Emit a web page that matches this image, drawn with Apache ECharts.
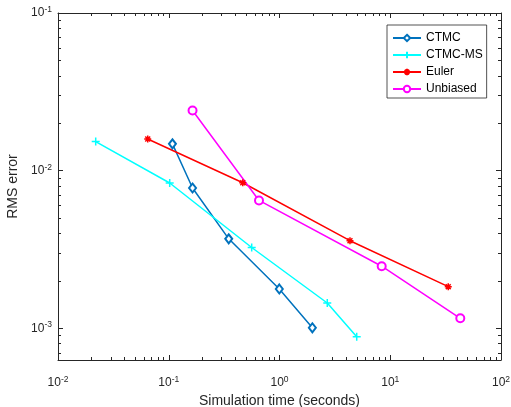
<!DOCTYPE html>
<html>
<head>
<meta charset="utf-8">
<script src="https://cdn.jsdelivr.net/npm/echarts@6/dist/echarts.min.js"></script>
<style>
  html, body { margin: 0; padding: 0; background: #fff; }
  #main { width: 511px; height: 407px; }
</style>
</head>
<body>
<div id="main"></div>
<script>
// simulation time (seconds) and RMS error per method
var ctmcTime   = [0.108, 0.164, 0.348, 0.996, 1.98];
var ctmcErr    = [0.0148, 0.00777, 0.00370, 0.00178, 0.00101];
var ctmcMsTime = [0.0219, 0.102, 0.561, 2.70, 4.98];
var ctmcMsErr  = [0.0153, 0.00836, 0.00326, 0.00145, 0.000886];
var eulerTime  = [0.0646, 0.466, 4.33, 33.4];
var eulerErr   = [0.0159, 0.00839, 0.00360, 0.00184];
var unbTime    = [0.164, 0.653, 8.37, 42.9];
var unbErr     = [0.0241, 0.00648, 0.00248, 0.00116];

var xTicks = [0.01, 0.1, 1, 10, 100];
var yTicks = [0.001, 0.01, 0.1];
var xMin = 0.01, xMax = 100;
var yMin = Math.pow(10, -3.2), yMax = 0.1;

var font = '"Liberation Sans", Helvetica, Arial, sans-serif';
var ink = '#262626';

function pairs(t, e) {
    return t.map(function (v, i) { return [v, e[i]]; });
}

// 2..9 times each decade, for the small log ticks
function minorTicks(lo, hi, from, to) {
    var out = [];
    for (var n = lo; n <= hi; n++) {
        for (var k = 2; k <= 9; k++) {
            var v = k * Math.pow(10, n);
            if (v > from && v < to) out.push(v);
        }
    }
    return out;
}
var xMinor = minorTicks(-2, 1, xMin, xMax);
var yMinor = minorTicks(-4, -2, yMin, yMax);

function powLabel(v) {
    var e = Math.round(Math.log10(v));
    return '{b|10}{e|' + e + '}';
}
var labelRich = {
    b: { fontSize: 12, lineHeight: 16, color: ink, fontFamily: font },
    e: { fontSize: 8.5, lineHeight: 8, verticalAlign: 'top', color: ink, fontFamily: font }
};

function axisPair(dim, pos, min, max, major, minor, withLabel) {
    var base = {
        type: 'log', logBase: 10, min: min, max: max, position: pos,
        splitLine: { show: false },
        axisLine: { show: true, lineStyle: { color: ink, width: 1 } }
    };
    var a = Object.assign({}, base, {
        axisTick: { show: true, inside: true, length: 5, customValues: major, lineStyle: { color: ink } },
        axisLabel: withLabel ? {
            show: true, customValues: major, formatter: powLabel, rich: labelRich,
            margin: dim === 'x' ? 15 : 6
        } : { show: false }
    });
    var b = Object.assign({}, base, {
        axisLine: { show: false },
        axisTick: { show: true, inside: true, length: 3, customValues: minor, lineStyle: { color: ink } },
        axisLabel: { show: false }
    });
    return [a, b];
}

var xAxes = axisPair('x', 'bottom', xMin, xMax, xTicks, xMinor, true)
    .concat(axisPair('x', 'top', xMin, xMax, xTicks, xMinor, false));
var yAxes = axisPair('y', 'left', yMin, yMax, yTicks, yMinor, true)
    .concat(axisPair('y', 'right', yMin, yMax, yTicks, yMinor, false));

xAxes[0].name = 'Simulation time (seconds)';
xAxes[0].nameLocation = 'middle';
xAxes[0].nameGap = 34;
xAxes[0].nameTextStyle = { fontSize: 14, color: ink, fontFamily: font };
yAxes[0].name = 'RMS error';
yAxes[0].nameLocation = 'middle';
yAxes[0].nameGap = 38;
yAxes[0].nameTextStyle = { fontSize: 14, color: ink, fontFamily: font };

var plusPath = 'path://M5,0L5,10M0,5L10,5';
var starPath = 'path://M0,5L10,5M5,0L5,10M1.5,1.5L8.5,8.5M1.5,8.5L8.5,1.5';

function line(name, data, color, symbol, size) {
    return {
        name: name, type: 'line', data: data,
        xAxisIndex: 0, yAxisIndex: 0,
        symbol: symbol, symbolSize: size, showSymbol: true,
        lineStyle: { color: color, width: 1.5 },
        itemStyle: { color: color, borderColor: color, borderWidth: 1.5 },
        emphasis: { disabled: true },
        z: 3
    };
}

var chart = echarts.init(document.getElementById('main'));
chart.setOption({
    animation: false,
    backgroundColor: '#fff',
    textStyle: { fontFamily: font },
    grid: { left: 58, right: 10, top: 13, bottom: 47, containLabel: false, outerBoundsMode: 'none' },
    legend: {
        orient: 'vertical',
        left: 387, top: 25,
        padding: [7, 4, 3, 5],
        itemWidth: 28, itemHeight: 8, itemGap: 5,
        borderColor: ink, borderWidth: 0.8,
        backgroundColor: '#fff',
        textStyle: { fontSize: 12, color: '#000', fontFamily: font, lineHeight: 12 },
        data: ['CTMC', 'CTMC-MS', 'Euler', 'Unbiased']
    },
    xAxis: xAxes,
    yAxis: yAxes,
    series: [
        line('CTMC', pairs(ctmcTime, ctmcErr), '#0072BD', 'emptyDiamond', [7, 9]),
        line('CTMC-MS', pairs(ctmcMsTime, ctmcMsErr), '#00FFFF', plusPath, 8),
        line('Euler', pairs(eulerTime, eulerErr), '#FF0000', starPath, 7),
        line('Unbiased', pairs(unbTime, unbErr), '#FF00FF', 'emptyCircle', 8)
    ]
});
</script>
</body>
</html>
